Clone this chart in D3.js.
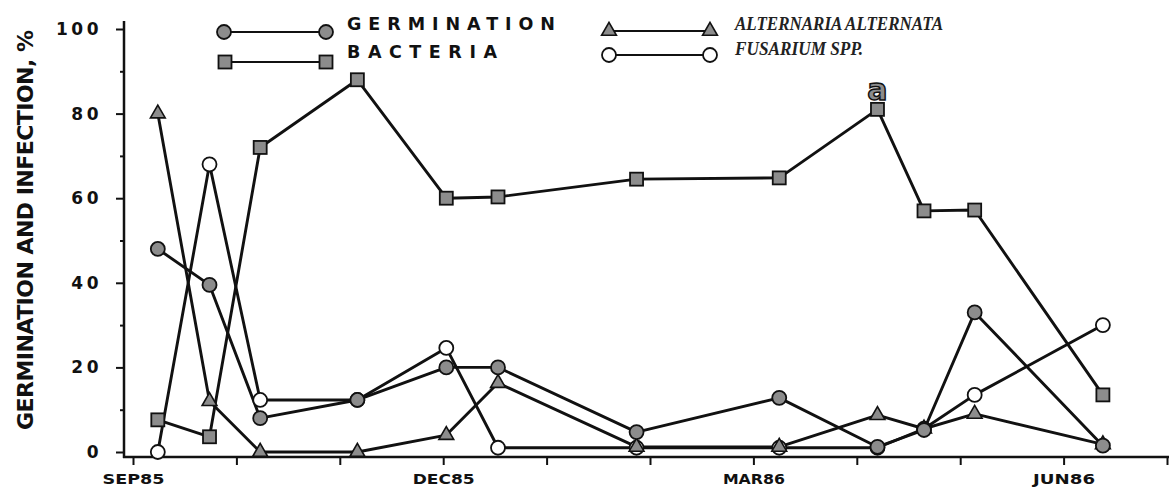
<!DOCTYPE html>
<html>
<head>
<meta charset="utf-8">
<script src="https://cdn.jsdelivr.net/npm/d3@7"></script>
<style>
  body { margin: 0; background: #fff; }
  svg { display: block; }
  text { font-family: "DejaVu Sans", sans-serif; fill: #111; }
</style>
</head>
<body>
<div id="chart"></div>
<script>
// sampling dates, in months after 1 Sep 1985
var sampleMonths = [0.24, 0.74, 1.23, 2.17, 3.03, 3.53, 4.87, 6.25, 7.2, 7.65, 8.14, 9.38];

var germination = [48, 39.5, 8, 12.3, 20, 20, 4.7, 12.8, 1.2, 5.2, 33, 1.5];
var bacteria = [7.6, 3.6, 72, 88, 60, 60.3, 64.5, 64.8, 81, 57, 57.2, 13.5];
var alternaria = [80, 12, 0, 0, 4, 16.3, 1.2, 1.2, 8.7, 5.5, 9, 1.8];
var fusarium = [0, 68, 12.3, 12.3, 24.6, 1, 1, 1, 1, 5.5, 13.5, 30];

var monthTicks = [0, 1, 2, 3, 4, 5, 6, 7, 8, 9, 10];
var monthLabels = { 0: "SEP85", 3: "DEC85", 6: "MAR86", 9: "JUN86" };
var yMajor = [0, 20, 40, 60, 80, 100];
var yMinor = [10, 30, 50, 70, 90];

var width = 1169, height = 487;

var svg = d3.select("#chart").append("svg")
    .attr("width", width)
    .attr("height", height);

var x = d3.scaleLinear().domain([0, 10]).range([133, 1167]);
var y = d3.scaleLinear().domain([0, 100]).range([452, 29]);

var ink = "#111";
var markFill = "#8c8c8c";

// axis lines (they run a little past the scales, like the original)
svg.append("line")
    .attr("x1", 124).attr("x2", 124)
    .attr("y1", 21).attr("y2", 458)
    .attr("stroke", ink).attr("stroke-width", 2.5);
svg.append("line")
    .attr("x1", 123).attr("x2", 1169)
    .attr("y1", 457).attr("y2", 457)
    .attr("stroke", ink).attr("stroke-width", 2.5);

// y axis ticks
var yAxis = svg.append("g")
    .attr("transform", "translate(124,0)")
    .call(d3.axisLeft(y).tickValues(yMajor).tickSize(8).tickPadding(14));
yAxis.select(".domain").remove();
yAxis.selectAll("line").attr("stroke", ink).attr("stroke-width", 2);
yAxis.selectAll("text")
    .style("font-family", "DejaVu Sans, sans-serif")
    .style("font-size", "17px")
    .style("font-weight", "bold")
    .style("letter-spacing", "3.5px")
    .attr("fill", ink);

var yMinorAxis = svg.append("g")
    .attr("transform", "translate(124,0)")
    .call(d3.axisLeft(y).tickValues(yMinor).tickSize(4).tickFormat(""));
yMinorAxis.select(".domain").remove();
yMinorAxis.selectAll("line").attr("stroke", ink).attr("stroke-width", 2);

// x axis ticks
var xAxis = svg.append("g")
    .attr("transform", "translate(0,457)")
    .call(d3.axisBottom(x).tickValues(monthTicks).tickSize(8).tickPadding(9)
        .tickFormat(function (d) { return monthLabels[d] || ""; }));
xAxis.select(".domain").remove();
xAxis.selectAll("line").attr("stroke", ink).attr("stroke-width", 2);
xAxis.selectAll("text")
    .style("font-family", "DejaVu Sans, sans-serif")
    .style("font-size", "14px")
    .style("font-weight", "bold")
    .attr("fill", ink)
    .attr("textLength", function (d) { return monthLabels[d] ? 62 : null; })
    .attr("lengthAdjust", "spacingAndGlyphs");

// y axis title
svg.append("text")
    .attr("transform", "translate(25,230) rotate(-90)")
    .attr("text-anchor", "middle")
    .attr("dominant-baseline", "central")
    .attr("textLength", 400)
    .attr("lengthAdjust", "spacing")
    .style("font-size", "22px")
    .style("font-weight", "600")
    .text("GERMINATION AND INFECTION, %");

// marker drawers
function drawMarker(g, type, cx, cy) {
    if (type == "circle") {
        g.append("circle").attr("cx", cx).attr("cy", cy).attr("r", 7)
            .attr("fill", markFill).attr("stroke", ink).attr("stroke-width", 1.8);
    } else if (type == "square") {
        g.append("rect").attr("x", cx - 6.5).attr("y", cy - 6.5)
            .attr("width", 13).attr("height", 13)
            .attr("fill", markFill).attr("stroke", ink).attr("stroke-width", 1.8);
    } else if (type == "triangle") {
        g.append("path")
            .attr("d", d3.symbol().type(d3.symbolTriangle).size(95)())
            .attr("transform", `translate(${cx},${cy})`)
            .attr("fill", markFill).attr("stroke", ink).attr("stroke-width", 1.6);
    } else if (type == "open") {
        g.append("circle").attr("cx", cx).attr("cy", cy).attr("r", 7)
            .attr("fill", "#fff").attr("stroke", ink).attr("stroke-width", 1.8);
    }
}

var series = [
    { name: "fusarium", values: fusarium, marker: "open" },
    { name: "alternaria", values: alternaria, marker: "triangle" },
    { name: "bacteria", values: bacteria, marker: "square" },
    { name: "germination", values: germination, marker: "circle" }
];

var line = d3.line()
    .x(function (d) { return x(d[0]); })
    .y(function (d) { return y(d[1]); });

series.forEach(function (s) {
    var pts = sampleMonths.map(function (m, i) { return [m, s.values[i]]; });
    svg.append("path")
        .datum(pts)
        .attr("d", line)
        .attr("fill", "none")
        .attr("stroke", ink)
        .attr("stroke-width", 2.9)
        .attr("stroke-linejoin", "round");
});
series.forEach(function (s) {
    var g = svg.append("g").attr("class", s.name);
    sampleMonths.forEach(function (m, i) {
        drawMarker(g, s.marker, x(m), y(s.values[i]));
    });
});

// significance letter over the bacteria peak
svg.append("text")
    .attr("x", x(sampleMonths[8]))
    .attr("y", y(bacteria[8]) - 9)
    .attr("text-anchor", "middle")
    .style("font-size", "30px")
    .style("font-weight", "bold")
    .style("fill", markFill)
    .style("stroke", ink)
    .style("stroke-width", 1.5)
    .text("a");

// legend
var legend = [
    { label: "GERMINATION", marker: "circle", x1: 224, x2: 326, ly: 32, tx: 347, ty: 30, len: 208, style: "sans" },
    { label: "BACTERIA", marker: "square", x1: 225, x2: 326, ly: 62, tx: 347, ty: 58, len: 150, style: "sans" },
    { label: "ALTERNARIA ALTERNATA", marker: "triangle", x1: 609, x2: 710, ly: 31, tx: 735, ty: 30, len: 208, style: "serif" },
    { label: "FUSARIUM SPP.", marker: "open", x1: 609, x2: 710, ly: 55, tx: 735, ty: 55, len: 128, style: "serif" }
];

legend.forEach(function (l) {
    var g = svg.append("g");
    g.append("line")
        .attr("x1", l.x1).attr("x2", l.x2)
        .attr("y1", l.ly).attr("y2", l.ly)
        .attr("stroke", ink).attr("stroke-width", 2.2);
    drawMarker(g, l.marker, l.x1, l.ly);
    drawMarker(g, l.marker, l.x2, l.ly);
    var t = g.append("text")
        .attr("x", l.tx).attr("y", l.ty)
        .text(l.label);
    if (l.style == "serif") {
        t.attr("textLength", l.len)
            .attr("lengthAdjust", "spacingAndGlyphs")
            .style("font-family", "Liberation Serif, serif")
            .style("font-style", "italic")
            .style("font-weight", "bold")
            .style("font-size", "19px")
            .style("fill", "#222");
    } else {
        t.attr("textLength", l.len)
            .attr("lengthAdjust", "spacing")
            .style("font-size", "17.5px")
            .style("font-weight", "bold");
    }
});
</script>
</body>
</html>
